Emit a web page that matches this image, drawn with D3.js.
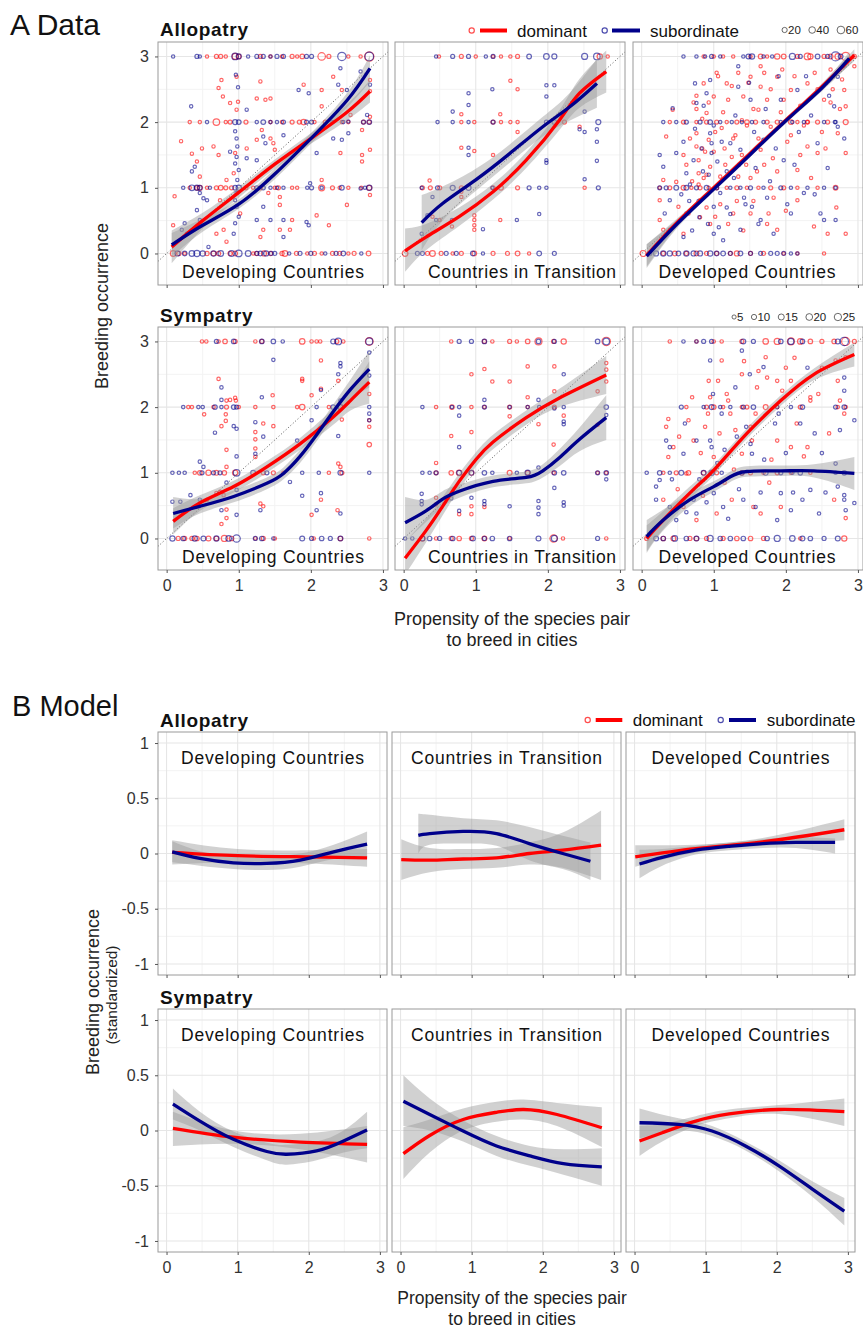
<!DOCTYPE html>
<html>
<head>
<meta charset="utf-8">
<script src="https://cdn.jsdelivr.net/npm/d3@7"></script>
<style>
body { margin: 0; background: #fff; }
svg { display: block; font-family: "Liberation Sans", Arial, Helvetica, sans-serif; }
</style>
</head>
<body>
<div id="chart"></div>
<script>
// ---- categories / ticks ----
const rows = ["Allopatry", "Sympatry"];
const regions = ["Developing Countries", "Countries in Transition", "Developed Countries"];
const groups = ["dominant", "subordinate"];
const xTicks = [0, 1, 2, 3];
const yTicksA = [0, 1, 2, 3];
const yTicksB = [-1, -0.5, 0, 0.5, 1];
const sizeLegAllo = [20, 40, 60];
const sizeLegSym = [5, 10, 15, 20, 25];

// ---- A: raw data points [x, y, n] ----
const ptsAlloDevDom = [[0.56,3],[0.69,3,3],[0.75,3,3],[0.82,3],[0.95,3,15],[1.0,3,6],[1.3,3,3],[1.44,3],[1.6,3],[1.74,3,3],[1.81,3],[1.88,3,5],[2.15,3,30],[2.25,3,3],[2.52,3],[2.69,3],[2.81,3,55],
 [0.32,2],[0.46,2],[0.69,2,20],[0.82,2],[0.88,2,3],[1.1,2,3],[1.44,2],[1.6,2],[1.74,2,3],[1.84,2,3],[1.9,2,10],[2.05,2],[2.2,2,3],[2.43,2],[2.52,2],[2.73,2,3],[2.81,2,3],
 [0.32,1],[0.42,1,5],[0.46,1,8],[0.56,1],[0.69,1,3],[0.75,1,6],[0.82,1,3],[0.9,1,3],[1.1,1,3],[1.2,1],[1.3,1,3],[1.5,1],[1.55,1,3],[1.74,1],[1.81,1],[2.15,1,15],[2.3,1,3],[2.4,1],[2.52,1],[2.7,1],[2.81,1,8],
 [0.09,0,12],[0.17,0,4],[0.25,0],[0.56,0,4],[0.65,0,6],[0.72,0,4],[0.88,0,4],[0.95,0,6],[1.2,0],[1.25,0,4],[1.35,0,8],[1.44,0,4],[1.6,0,4],[1.64,0,12],[1.8,0,3],[1.95,0],[2.05,0,3],[2.15,0],[2.3,0,3],[2.4,0,3],[2.52,0],[2.6,0,3],[2.8,0,6],
 [0.2,1.71],[0.11,0.87],[0.09,0.43],[0.35,1.52],[0.49,1.6],[0.42,1.4],[0.46,1.17],[0.65,1.63],[0.72,1.5],[0.76,2.64],[0.72,2.52],[0.78,2.39],[0.88,2.29],[0.97,2.69],[0.99,2.31],[0.97,2.19],[0.95,1.53],[0.93,1.22],[0.83,1.12],[0.74,0.81],[0.79,0.36],[0.83,0.18],[0.69,0.3],[1.02,0.61],[1.11,1.6],[1.25,1.73],[1.32,1.88],[1.3,2.62],[1.25,2.36],[1.37,2.34],[1.44,2.36],[1.44,1.75],[1.48,1.68],[1.5,1.58],[1.57,0.86],[1.57,0.74],[1.41,0.92],[1.34,0.36],[1.3,0.25],[1.57,0.36],[1.74,0.51],[1.71,0.36],[1.88,1.63],[1.9,2.57],[2.08,0.58],[2.15,2.24],[2.15,2.49],[2.15,1.12],[2.25,0.43],[2.31,2.69],[2.41,1.53],[2.43,2.49],[2.5,0.74],[2.55,2.11],[2.71,1.88],[2.71,1.5],[2.71,1.4],[2.82,2.08],[2.82,1.58],[2.82,0.89],[2.82,2.47],[2.82,2.64]];
const ptsAlloDevSub = [[0.09,3],[0.42,3,3],[0.46,3],[0.95,3,20],[1.0,3,8],[1.13,3],[1.25,3,3],[1.34,3,3],[1.44,3],[1.53,3,3],[1.62,3,3],[1.94,3,3],[2.01,3,3],[2.43,3,40],[2.81,3,45],
 [0.56,2],[0.95,2,8],[1.0,2,6],[1.25,2],[1.34,2,6],[1.44,2],[1.53,2],[1.62,2,3],[1.94,2,3],[2.01,2,3],[2.3,2],[2.45,2],[2.73,2,3],[2.81,2,6],
 [0.23,1],[0.35,1,12],[0.42,1,10],[0.46,1,6],[0.6,1],[0.95,1,6],[1.0,1,10],[1.25,1,3],[1.34,1,3],[1.44,1],[1.53,1],[1.62,1],[1.95,1],[2.01,1,3],[2.15,1],[2.43,1,6],[2.75,1],[2.81,1,10],
 [0.15,0,8],[0.25,0,6],[0.35,0,12],[0.42,0,16],[0.5,0,10],[0.65,0,10],[0.75,0,12],[0.9,0,14],[1.0,0,20],[1.13,0,12],[1.25,0,3],[1.3,0,6],[1.38,0,8],[1.45,0,3],[1.5,0,3],[1.7,0],[1.85,0,3],[2.0,0,3],[2.2,0],[2.35,0,3],[2.45,0,6],[2.7,0],
 [0.96,2.72],[0.99,2.53],[0.95,1.86],[0.97,1.75],[0.98,1.63],[0.97,1.47],[0.95,1.37],[1.0,1.27],[0.98,1.12],[0.97,0.92],[0.95,0.81],[0.97,0.71],[1.0,0.56],[0.95,0.46],[0.93,0.3],
 [0.34,2.24],[0.21,0.36],[0.25,0.46],[0.35,1.25],[0.39,1.32],[0.46,0.92],[0.51,0.84],[0.56,0.81],[0.42,0.66],[0.46,0.51],[0.37,0.36],[0.28,0.3],[0.58,0.1],[0.88,1.55],[1.11,2.19],[1.11,1.45],[1.25,1.42],[1.34,1.78],[1.37,1.68],[1.25,0.51],[1.34,0.71],[1.44,0.51],[1.62,0.51],[1.62,0.25],[1.62,1.8],[1.83,2.49],[1.97,2.44],[1.99,1.07],[2.08,1.53],[2.31,1.75],[2.41,2.82],[2.38,2.57],[2.43,1.73],[2.52,1.83],[2.5,2.49],[2.69,2.77],[2.69,0.99],[2.82,2.57],[2.78,2.11],[2.52,2.01],[1.94,0.48],[1.97,0.43]];
const ptsAlloTraDom = [[0.49,3],[0.8,3,3],[1.0,3],[1.24,3],[1.35,3],[1.48,3],[1.58,3,3],[2.72,3,10],[2.83,3],
 [0.8,2],[0.98,2],[1.24,2,3],[1.35,2],[1.48,2],[1.58,2],[2.23,2,3],
 [0.26,1,3],[0.37,1,3],[0.5,1,3],[0.8,1,3],[1.24,1,3],[1.35,1,6],[1.58,1,3],[2.51,1],
 [0.02,0,12],[0.33,0,3],[0.4,0,12],[0.52,0,3],[0.68,0],[0.8,0,3],[0.98,0,6],[1.24,0,3],[1.44,0,3],[1.58,0,6],[1.74,0],
 [0.36,1.11],[0.8,0.94],[0.8,0.86],[0.4,0.56],[0.5,0.51],[0.67,0.41],[0.98,0.58],[0.98,0.51],[0.98,0.43],[0.98,0.36],[0.8,2.12],[0.98,1.56],[0.8,1.61],[1.34,2.12],[1.48,2.63],[1.58,2.5],[1.58,1.85],[1.24,1.5],[1.34,0.51],[2.44,1.93]];
const ptsAlloTraSub = [[0.45,3],[0.68,3,3],[0.9,3,3],[1.14,3],[1.24,3,3],[1.74,3,6],[1.98,3,12],[2.09,3,8],[2.51,3,15],[2.68,3,20],
 [0.47,2],[0.68,2],[0.9,2],[1.24,2,3],[1.98,2,3],[2.09,2,6],[2.7,2,8],
 [0.25,1],[0.47,1,3],[0.68,1,8],[0.9,1,8],[1.23,1],[1.74,1,3],[1.88,1],[1.98,1],[2.7,1,3],
 [0.19,0,3],[0.26,0,3],[0.59,0,3],[0.73,0,3],[0.96,0,6],[1.1,0],[1.88,0,6],[2.09,0,3],
 [0.9,2.44],[0.9,2.26],[0.68,2.16],[1.23,2.5],[1.98,2.56],[2.09,2.56],[1.98,2.39],[0.9,1.61],[0.9,1.5],[2.51,2.16],[2.44,1.89],[2.51,1.85],[2.68,1.89],[2.68,1.7],[2.68,1.41],[1.98,1.42],[1.98,1.38],[2.51,1.13],[0.4,0.86],[0.33,0.58],[0.67,0.51],[1.1,0.37],[1.88,0.6],[1.57,0.51],[0.25,0.3],[0.45,0.51]];
const ptsAlloDedDom = [[0.86,3],[1.0,3],[1.13,3],[1.27,3],[1.51,3],[1.65,3,6],[1.74,3],[1.88,3,10],[1.97,3,6],[2.16,3,3],[2.3,3,20],[2.34,3,10],[2.53,3,3],[2.62,3,6],[2.72,3,12],[2.83,3,40],[2.95,3,3],
 [0.39,2],[0.58,2,3],[0.76,2],[0.9,2,3],[1.04,2,3],[1.18,2],[1.32,2,3],[1.46,2,6],[1.58,2,3],[1.74,2,3],[1.88,2,3],[2.07,2,6],[2.16,2],[2.3,2,3],[2.44,2,3],[2.58,2,3],[2.83,2,8],
 [0.25,1],[0.39,1,3],[0.58,1,6],[0.69,1],[0.81,1,3],[0.93,1],[1.04,1,3],[1.18,1],[1.32,1,3],[1.46,1],[1.62,1],[1.79,1,3],[1.97,1,3],[2.16,1],[2.44,1],[2.69,1,6],
 [0.02,0,15],[0.3,0,3],[0.46,0,6],[0.62,0,3],[0.76,0,6],[0.9,0,3],[1.04,0,3],[1.23,0,3],[1.32,0,8],[1.51,0,3],[1.69,0,3],[1.97,0],[2.16,0],[2.53,0],
 [0.43,2.19],[0.34,1.78],[0.3,1.12],[0.25,0.81],[0.25,0.51],[0.3,0.36],[0.48,1.09],[0.51,0.71],[0.58,0.3],[0.65,0.61],[0.76,1.83],[0.76,1.63],[0.79,1.42],[0.79,1.22],[0.81,0.81],[0.86,2.59],[0.9,2.14],[0.93,1.73],[0.95,1.32],[1.0,2.39],[1.02,0.56],[1.09,1.17],[1.11,1.91],[1.18,2.59],[1.2,2.34],[1.25,1.47],[1.27,0.61],[1.34,1.17],[1.39,2.03],[1.41,2.39],[1.51,2.69],[1.51,0.61],[1.62,2.19],[1.65,2.54],[1.65,1.58],[1.74,2.34],[1.76,0.61],[1.79,1.93],[1.88,2.69],[1.88,0.36],[1.97,2.34],[2.07,2.49],[2.16,1.27],[2.16,0.81],[2.3,2.59],[2.3,1.63],[2.39,0.41],[2.44,1.53],[2.53,2.34],[2.58,0.3],[2.62,2.8],[2.72,1.83],[2.81,2.49],[2.83,1.53],[2.83,0.3],[2.95,2.85],[2.83,2.24],
 [0.58,1.5],[0.62,1.35],[0.67,1.75],[0.7,1.1],[0.72,2.3],[0.84,2.05],[0.88,1.55],[0.9,1.2],[1.06,2.7],[1.15,1.6],[1.3,1.8],[1.45,1.35],[1.55,2.2],[1.6,1.25],[1.7,2.75],[1.82,1.45],[1.95,2.8],[2.02,1.7],[2.2,2.25],[2.25,1.95],[2.4,2.75],[2.5,1.85],[2.65,2.5],[2.75,2.2],
 [0.76,2.4],[0.76,2.2],[0.79,1.05],[0.81,0.55],[0.84,1.6],[0.86,1.15],[0.9,0.7],[0.93,2.3],[0.95,0.45],[1.0,1.55],[1.02,1.85],[1.04,2.75],[1.09,0.75],[1.13,2.15],[1.16,1.35],[1.2,0.45],[1.25,2.55],[1.27,1.75],[1.32,0.8],[1.34,2.75],[1.39,1.5],[1.41,0.35],[1.46,1.95],[1.48,2.6],[1.51,1.15],[1.55,0.8],[1.62,1.75],[1.65,2.85],[1.7,1.35],[1.74,0.45],[1.79,2.5],[1.83,0.85],[1.88,1.25],[1.93,2.15],[2.0,0.65],[2.07,1.8],[2.12,2.7],[2.2,1.5],[2.3,2.0],[2.35,1.15],[2.44,2.5],[2.55,1.6],[2.62,2.3],[2.7,0.7],[2.78,2.65]];
const ptsAlloDedSub = [[0.58,3],[0.76,3],[0.88,3],[0.97,3,3],[1.09,3],[1.41,3],[1.48,3,6],[1.53,3,10],[1.69,3],[1.81,3],[2.09,3,15],[2.2,3,3],[2.44,3,6],[2.58,3,3],[2.69,3,50],[2.76,3,6],
 [0.3,2],[0.48,2],[0.62,2,3],[0.81,2,3],[0.95,2,6],[1.09,2],[1.25,2],[1.39,2],[1.53,2],[1.69,2],[1.93,2],[2.09,2],[2.25,2],[2.53,2],[2.69,2],
 [0.25,1,3],[0.34,1,3],[0.48,1,6],[0.62,1,6],[0.76,1,3],[0.9,1,6],[1.04,1,3],[1.23,1],[1.37,1],[1.51,1,3],[1.69,1],[1.93,1,3],[2.07,1],[2.3,1],[2.53,1],[2.69,1],
 [0.11,0,6],[0.2,0,8],[0.3,0,10],[0.39,0,8],[0.51,0,6],[0.62,0,10],[0.72,0,8],[0.81,0,8],[0.95,0,10],[1.04,0,6],[1.13,0,6],[1.23,0,3],[1.37,0,6],[1.51,0,3],[1.65,0,3],[1.79,0,3],[1.88,0,3],[1.97,0,3],[2.07,0],[2.16,0],
 [0.43,2.21],[0.25,1.5],[0.3,1.32],[0.39,0.81],[0.32,0.61],[0.39,0.36],[0.48,1.53],[0.58,0.25],[0.62,1.22],[0.62,0.61],[0.72,1.42],[0.74,2.59],[0.76,2.29],[0.9,2.44],[0.95,2.64],[0.95,1.83],[0.97,1.68],[0.97,1.53],[1.0,0.71],[1.0,0.3],[1.09,0.92],[1.13,0.2],[1.23,1.68],[1.34,2.85],[1.34,2.54],[1.37,1.58],[1.37,0.36],[1.51,2.34],[1.53,0.71],[1.65,0.51],[1.69,1.73],[1.83,0.3],[1.93,2.34],[1.97,1.42],[2.07,0.61],[2.16,2.49],[2.25,0.92],[2.44,1.68],[2.48,0.61],[2.53,0.51],[2.67,2.24],[2.69,0.51],[2.72,2.69],[2.81,1.75],[2.72,1.93],
 [0.55,0.9],[0.66,0.8],[0.8,0.55],[0.85,1.25],[0.92,0.45],[1.05,1.4],[1.18,0.7],[1.28,1.15],[1.42,0.85],[1.58,1.3],[1.74,0.85],[1.86,1.6],[2.12,1.35],[2.35,2.1],[2.6,2.4],
 [0.58,1.7],[0.67,1.05],[0.7,0.35],[0.74,1.9],[0.79,0.8],[0.83,1.6],[0.86,2.25],[0.93,1.2],[1.0,1.95],[1.07,0.4],[1.11,1.7],[1.18,1.25],[1.23,0.6],[1.3,2.1],[1.35,1.35],[1.44,0.75],[1.49,2.6],[1.56,1.85],[1.62,0.45],[1.72,2.2],[1.78,1.1],[1.9,2.7],[2.02,0.75],[2.18,1.85],[2.28,2.7],[2.4,0.9],[2.58,1.3],[2.68,2.0],[2.8,2.85]];

const ptsSymDevDom = [[0.49,3],[0.55,3],[0.72,3],[0.81,3,3],[0.95,3,2],[1.23,3],[1.32,3,2],[1.88,3,6],[2.01,3],[2.08,3],[2.13,3],[2.36,3,2],[2.45,3],[2.81,3,16],
 [0.3,2],[0.35,2],[0.65,2],[0.83,2,2],[1.0,2],[1.23,2],[1.48,2],[1.81,2],[1.88,2,6],[2.25,2],[2.41,2,4],
 [0.39,1],[0.46,1,3],[0.58,1,5],[0.69,1,4],[0.8,1,3],[0.95,1,5],[1.34,1,2],[1.48,1,2],[1.62,1],[2.25,1],[2.43,1,2],
 [0.16,0,2],[0.25,0,2],[0.35,0,2],[0.42,0,3],[0.58,0,4],[0.69,0,3],[0.8,0,8],[0.9,0,3],[1.23,0],[1.34,0,2],[1.5,0],[2.04,0],[2.41,0,3],[2.81,0],
 [0.72,2.43],[0.83,2.1],[0.88,2.11],[0.95,2.14],[0.96,2.1],[0.52,1.89],[0.76,1.71],[0.82,1.89],[0.82,1.79],[0.83,1.35],[0.83,1.09],[0.79,0.66],[0.69,0.69],[0.74,0.71],[0.83,0.31],[0.76,0.22],[0.83,0.44],[0.56,0.59],[1.23,1.62],[1.23,1.51],[1.23,1.37],[1.23,1.24],[1.34,1.75],[1.3,0.53],[1.34,0.49],[1.47,2.18],[1.48,1.71],[1.88,2.43],[1.88,2.4],[2.01,2.18],[2.14,2.28],[2.14,2.71],[2.14,0.59],[2.01,0.36],[2.38,2.4],[2.38,1.14],[2.41,1.09],[2.43,1.81],[2.37,0.43],[2.81,2.2],[2.81,1.8],[2.81,1.7],[2.81,1.43,3]];
const ptsSymDevSub = [[0.69,3,2],[0.93,3,3],[1.32,3,3],[1.48,3,3],[1.61,3],[2.31,3,4],[2.38,3,10],[2.81,3,12],
 [0.23,2],[0.44,2],[0.5,2],[0.67,2,3],[0.76,2],[0.93,2,3],[0.97,2,2],[2.08,2],[2.31,2,3],[2.41,2,5],[2.81,2],
 [0.08,1],[0.17,1],[0.25,1],[0.49,1,2],[0.65,1,2],[0.74,1,2],[0.97,1,10],[1.2,1,4],[1.39,1,2],[1.88,1],[2.11,1],[2.41,1,4],[2.81,1],
 [0.08,0,5],[0.23,0,3],[0.39,0,5],[0.51,0,4],[0.69,0,5],[0.86,0,6],[0.97,0,14],[1.23,0,2],[1.32,0,3],[1.48,0],[1.88,0,4],[2.01,0,2],[2.15,0,3],[2.27,0,2],[2.41,0,4],
 [0.08,0.56],[0.19,0.56],[0.33,0.66],[0.46,0.59],[0.46,1.17],[0.51,1.09],[0.67,1.61],[0.76,2.3],[0.76,2.11],[0.93,1.71],[0.97,1.67],[0.97,1.25],[0.97,0.74],[0.97,0.36],[0.83,0.85],[0.76,0.43],[1.32,2.15],[1.23,1.77],[1.34,1.55],[1.23,1.29],[1.3,0.43],[1.48,2.72],[1.71,0.86],[1.81,1.49],[1.88,0.65],[2.08,0.43],[2.01,1.8],[2.14,2.26],[2.14,0.69],[2.38,1.56],[2.38,2.5],[2.41,2.62],[2.41,2.67],[2.41,2.1],[2.41,0.38],[2.81,1.9],[2.81,1.8],[2.81,2.48],[2.81,2.83]];
const ptsSymTraDom = [[0.66,3],[1.12,3,2],[1.23,3],[1.47,3,2],[1.57,3],[1.72,3,3],[1.87,3,12],[2.08,3,2],[2.22,3,5],[2.81,3,20],
 [0.45,2],[0.67,2,3],[0.94,2],[1.12,2],[1.47,2,2],[1.72,2],[2.09,2,2],
 [0.45,1,2],[0.66,1,3],[0.77,1,6],[0.94,1,4],[1.47,1,4],[1.72,1,3],[2.08,1],[2.69,1],[2.81,1],
 [0.26,0,5],[0.45,0],[0.66,0,2],[0.77,0,3],[0.94,0,2],[1.12,0,4],[1.47,0],[2.08,0,14],[2.21,0],[2.81,0],
 [0.94,2.5],[1.12,2.58],[1.23,2.39],[1.47,2.39],[1.72,2.15],[1.72,2.62],[2.09,2.62],[2.09,2.24],[2.22,1.87],[2.81,2.67],[2.81,2.57],[2.81,2.39],[2.69,2.24],[2.69,1.73],[0.94,1.62],[0.66,1.56],[1.47,1.86],[1.87,1.74],[2.08,1.43],[0.45,1.15],[0.45,0.62],[0.45,0.52],[0.94,0.49],[0.94,0.37],[0.77,0.37],[1.12,0.48]];
const ptsSymTraSub = [[0.77,3,2],[0.94,3,2],[1.12,3,3],[1.87,3,3],[2.09,3,2],[2.69,3,3],[2.81,3,10],
 [0.26,2],[0.67,2],[0.77,2],[1.12,2,2],[1.47,2],[1.72,2],[1.88,2],[2.22,2],[2.81,2,3],
 [0.26,1],[0.36,1],[0.45,1,2],[0.77,1,4],[0.94,1,4],[1.12,1,3],[1.23,1],[1.57,1],[1.72,1,5],[2.09,1,3],[2.22,1,3],[2.69,1,2],[2.81,1,3],
 [0.02,0],[0.12,0],[0.26,0,4],[0.36,0,3],[0.5,0,2],[0.68,0,3],[0.96,0,4],[1.12,0,2],[1.23,0,3],[1.47,0,3],[1.87,0,4],[2.09,0,8],[2.69,0,2],
 [0.77,1.87],[0.77,1.39],[0.66,0.61],[0.77,0.42],[0.25,0.68],[0.25,0.57],[0.25,0.52],[0.94,0.62],[1.12,2.11],[1.12,0.57],[1.12,0.52],[1.47,0.49],[1.87,2.11],[1.87,1.08],[1.87,0.57],[1.87,0.47],[1.87,0.37],[2.09,0.77],[2.22,2.5],[2.22,1.78],[2.22,1.74],[2.22,0.55],[2.22,0.5],[2.81,1.88],[2.81,0.9],[2.09,1.98]];
const ptsSymDedDom = [[0.39,3],[0.76,3],[1.0,3],[1.11,3],[1.39,3,2],[1.72,3,6],[1.88,3,8],[2.07,3,12],[2.2,3,6],[2.34,3,3],[2.5,3,2],[2.67,3,3],[2.83,3,18],[2.95,3,2],
 [0.62,2],[0.9,2,2],[1.0,2,3],[1.13,2],[1.39,2],[1.46,2,2],[1.72,2,4],[1.88,2],[2.2,2,2],[2.72,2],[2.83,2],
 [0.3,1],[0.48,1,2],[0.65,1,3],[0.86,1,3],[1.04,1,2],[1.39,1,3],[1.51,1,2],[1.69,1],[1.88,1,2],[2.07,1],[2.34,1],
 [0.07,0,2],[0.3,0,3],[0.44,0,4],[0.67,0,2],[0.76,0,3],[0.9,0,2],[1.13,0,2],[1.32,0,3],[1.51,0,3],[1.69,0,2],[2.2,0],[2.81,0,5],
 [0.37,1.82],[0.34,1.7],[0.37,1.24],[0.44,1.39],[0.3,0.59],[0.58,0.48],[0.65,1.8],[0.62,0.99],[0.72,1.49],[0.76,0.28],[0.93,2.4],[0.95,2.15],[0.88,1.7],[1.0,1.24],[1.04,0.38],[1.11,2.71],[1.18,2.2],[1.2,2.1],[1.23,1.9],[1.25,0.59],[1.39,2.5],[1.39,1.29],[1.51,1.7],[1.53,1.49],[1.65,0.38],[1.72,2.76],[1.74,2.45],[1.88,2.4],[1.88,1.49],[2.07,2.4],[2.07,1.39],[2.3,1.39],[2.34,2.15],[2.34,2.1],[2.69,2.71],[2.72,2.4],[2.83,2.76],[2.81,1.9],[2.83,0.31],[2.67,0.59],[1.93,0.48],[1.55,0.48],
 [0.5,0.75],[0.82,1.3],[1.08,1.6],[1.28,1.05],[1.6,2.3],[1.8,1.2],[2.0,2.6],[2.15,1.75],[2.45,2.2],[2.6,1.6],
 [0.52,1.55],[0.7,2.15],[0.85,0.65],[0.92,1.9],[1.06,2.4],[1.15,0.85],[1.3,1.65],[1.42,2.7],[1.58,1.9],[1.62,2.55],[1.77,0.85],[1.95,2.25],[2.12,2.75],[2.25,1.25],[2.5,2.6],[2.75,2.1]];
const ptsSymDedSub = [[0.58,3],[0.76,3],[0.86,3,2],[0.97,3,2],[1.41,3,4],[1.55,3,2],[1.93,3,3],[2.07,3,8],[2.23,3,3],[2.72,3,4],[2.81,3,20],
 [0.55,2,2],[0.86,2],[0.97,2,4],[1.09,2],[1.23,2],[1.41,2,2],[1.55,2,3],[1.88,2],[2.07,2],[2.23,2,3],[2.69,2,2],[2.81,2,3],
 [0.07,1],[0.25,1,3],[0.39,1],[0.55,1,4],[0.86,1,4],[0.97,1,5],[1.11,1],[1.39,1,3],[1.72,1,4],[1.93,1,2],[2.09,1],[2.2,1,3],[2.69,1],[2.81,1,3],
 [0.2,0,4],[0.3,0,3],[0.46,0,6],[0.62,0,3],[0.76,0,4],[0.95,0,8],[1.09,0,3],[1.23,0,3],[1.41,0,3],[1.74,0,3],[1.88,0,8],[2.09,0,6],[2.23,0,4],[2.34,0,3],[2.53,0,2],[2.72,0,4],
 [0.25,0.89],[0.2,0.79],[0.2,0.59],[0.34,1.49],[0.39,1.39],[0.58,1.29],[0.39,0.48],[0.48,0.28],[0.72,0.59],[0.76,1.49],[0.76,0.38],[0.95,2.71],[0.95,1.49],[0.97,1.39],[1.0,0.69],[1.11,1.9],[1.13,0.48],[1.3,2.3],[1.32,1.55],[1.39,2.86],[1.41,0.59],[1.51,1.44],[1.53,1.29],[1.58,0.48],[1.69,2.61],[1.88,0.28],[1.93,0.69],[2.07,0.43],[2.2,1.75],[2.23,0.59],[2.34,0.74],[2.46,0.38],[2.69,1.14],[2.72,0.79],[2.81,2.45],[2.81,2.25],[2.81,0.59],[2.83,0.43],[2.95,1.8],[2.95,0.54],[2.81,0.66],
 [0.62,0.4],[0.9,0.55],[1.05,1.15],[1.2,0.3],[1.45,1.7],[1.65,0.7],[1.85,1.75],[2.0,1.3],[2.4,1.6],[2.55,0.7],
 [0.42,0.9],[0.6,1.75],[0.8,0.9],[0.99,2.2],[1.15,1.35],[1.35,0.75],[1.5,2.5],[1.7,1.2],[1.9,1.9],[2.1,0.7],[2.3,2.6],[2.5,1.3],[2.75,1.65]];

// ---- A: smoothers [x, fit, lower, upper] ----
const fitAlloDevDom = [[0.07,0.1,-0.15,0.35],[0.5,0.5,0.38,0.62],[1,0.93,0.85,1.01],[1.5,1.36,1.29,1.43],[2,1.75,1.67,1.83],[2.5,2.15,2.03,2.27],[2.82,2.47,2.3,2.64]];
const fitAlloDevSub = [[0.07,0.13,-0.05,0.31],[0.5,0.43,0.33,0.53],[1,0.75,0.68,0.82],[1.5,1.21,1.13,1.29],[2,1.75,1.67,1.83],[2.5,2.33,2.22,2.44],[2.82,2.82,2.62,3.02]];
const fitAlloTraDom = [[0.02,0.04,-0.28,0.38],[0.31,0.25,0.05,0.45],[0.77,0.56,0.42,0.7],[1.24,0.94,0.82,1.06],[1.7,1.42,1.3,1.54],[2.16,2.03,1.88,2.18],[2.44,2.44,2.22,2.66],[2.81,2.77,2.45,3.09]];
const fitAlloTraSub = [[0.25,0.47,0.05,0.89],[0.54,0.76,0.5,1.02],[1.0,1.12,0.95,1.29],[1.47,1.52,1.38,1.66],[1.93,1.93,1.78,2.08],[2.3,2.23,2.02,2.44],[2.68,2.59,2.22,2.96]];
const fitAlloDedDom = [[0.07,-0.03,-0.2,0.14],[0.5,0.48,0.42,0.54],[1,1.0,0.96,1.04],[1.5,1.52,1.48,1.56],[2,2.03,1.99,2.07],[2.5,2.54,2.49,2.59],[2.95,3.02,2.93,3.11]];
const fitAlloDedSub = [[0.07,-0.04,-0.22,0.14],[0.5,0.46,0.4,0.52],[1,0.98,0.94,1.02],[1.5,1.5,1.46,1.54],[2,2.02,1.98,2.06],[2.5,2.52,2.47,2.57],[2.88,2.97,2.87,3.07]];
const fitSymDevDom = [[0.09,0.26,0.06,0.46],[0.46,0.54,0.42,0.66],[0.93,0.79,0.7,0.88],[1.39,1.09,1.0,1.18],[1.85,1.44,1.35,1.53],[2.31,1.85,1.73,1.97],[2.55,2.1,1.95,2.25],[2.81,2.38,2.05,2.7]];
const fitSymDevSub = [[0.09,0.38,0.15,0.63],[0.46,0.49,0.38,0.6],[0.93,0.64,0.55,0.73],[1.39,0.84,0.75,0.93],[1.62,0.99,0.9,1.08],[1.85,1.25,1.15,1.35],[2.08,1.58,1.48,1.68],[2.31,1.93,1.82,2.04],[2.55,2.27,2.12,2.42],[2.81,2.58,2.3,2.86]];
const fitSymTraDom = [[0.02,-0.3,-0.55,-0.05],[0.31,0.12,-0.06,0.3],[0.54,0.49,0.35,0.63],[0.77,0.87,0.75,0.99],[1.0,1.2,1.09,1.31],[1.24,1.47,1.36,1.58],[1.7,1.84,1.73,1.95],[2.16,2.14,2.0,2.28],[2.81,2.49,2.2,2.78]];
const fitSymTraSub = [[0.02,0.24,-0.05,0.63],[0.31,0.42,0.25,0.59],[0.54,0.6,0.48,0.72],[0.77,0.72,0.62,0.82],[1.24,0.87,0.78,0.96],[1.7,0.93,0.84,1.02],[1.93,1.03,0.93,1.13],[2.16,1.23,1.1,1.36],[2.44,1.51,1.33,1.69],[2.81,1.84,1.5,2.18]];
const fitSymDedDom = [[0.07,0.0,-0.2,0.2],[0.3,0.28,0.14,0.42],[0.76,0.79,0.7,0.88],[1.0,1.04,0.96,1.12],[1.46,1.6,1.52,1.68],[1.93,2.1,2.02,2.18],[2.39,2.5,2.41,2.59],[2.95,2.8,2.62,2.98]];
const fitSymDedSub = [[0.07,0.03,-0.22,0.28],[0.3,0.28,0.12,0.44],[0.67,0.59,0.49,0.69],[1.0,0.79,0.71,0.87],[1.23,0.94,0.86,1.02],[1.46,1.02,0.94,1.1],[1.93,1.03,0.95,1.11],[2.39,1.03,0.93,1.13],[2.95,0.99,0.74,1.24]];

// ---- B: model predictions [x, fit, lower, upper] ----
const modAlloDevDom = [[0.08,0.01,-0.1,0.12],[1,-0.02,-0.08,0.04],[2,-0.03,-0.09,0.03],[2.82,-0.04,-0.12,0.04]];
const modAlloDevSub = [[0.08,0.015,-0.08,0.11],[0.47,-0.045,-0.11,0.02],[0.94,-0.085,-0.14,-0.03],[1.41,-0.09,-0.15,-0.03],[1.88,-0.06,-0.12,0.0],[2.35,0.015,-0.05,0.08],[2.82,0.085,-0.03,0.2]];
const modAlloTraDom = [[0.01,-0.055,-0.24,0.13],[0.41,-0.06,-0.17,0.05],[0.88,-0.05,-0.14,0.04],[1.35,-0.04,-0.13,0.05],[1.81,0.0,-0.1,0.1],[2.28,0.03,-0.13,0.19],[2.82,0.075,-0.24,0.39]];
const modAlloTraSub = [[0.25,0.165,0.0,0.36],[0.41,0.18,0.08,0.35],[0.88,0.2,0.09,0.32],[1.35,0.18,0.07,0.3],[1.81,0.09,-0.06,0.24],[2.28,0.0,-0.14,0.16],[2.67,-0.07,-0.24,0.1]];
const modAlloDedDom = [[0.01,-0.03,-0.12,0.075],[0.86,0.045,0.01,0.08],[1.8,0.105,0.07,0.14],[2.95,0.215,0.12,0.31]];
const modAlloDedSub = [[0.07,-0.095,-0.225,0.035],[0.39,-0.035,-0.11,0.04],[0.86,0.03,-0.01,0.07],[1.33,0.065,0.03,0.1],[1.8,0.09,0.05,0.13],[2.27,0.1,0.05,0.15],[2.82,0.1,0.0,0.135]];
const modSymDevDom = [[0.09,0.02,-0.14,0.17],[0.94,-0.06,-0.12,0.0],[1.88,-0.105,-0.17,-0.03],[2.82,-0.125,-0.29,0.04]];
const modSymDevSub = [[0.09,0.24,0.1,0.38],[0.47,0.085,0.0,0.17],[0.94,-0.08,-0.15,-0.01],[1.41,-0.19,-0.27,-0.11],[1.69,-0.215,-0.31,-0.13],[2.11,-0.185,-0.27,-0.1],[2.49,-0.095,-0.2,0.0],[2.82,0.005,-0.16,0.17]];
const modSymTraDom = [[0.04,-0.21,-0.44,0.03],[0.41,-0.045,-0.2,0.1],[0.88,0.1,0.0,0.2],[1.35,0.165,0.08,0.26],[1.73,0.19,0.1,0.28],[2.2,0.145,0.04,0.25],[2.83,0.025,-0.15,0.21]];
const modSymTraSub = [[0.04,0.265,0.04,0.5],[0.41,0.145,0.0,0.29],[0.88,-0.005,-0.1,0.09],[1.35,-0.14,-0.23,-0.05],[1.82,-0.23,-0.32,-0.14],[2.29,-0.3,-0.4,-0.17],[2.83,-0.33,-0.5,-0.16]];
const modSymDedDom = [[0.07,-0.095,-0.23,0.04],[0.39,-0.02,-0.1,0.06],[0.86,0.085,0.04,0.13],[1.33,0.15,0.11,0.19],[2.03,0.19,0.15,0.23],[2.95,0.17,0.04,0.29]];
const modSymDedSub = [[0.07,0.07,-0.07,0.2],[0.62,0.055,0.0,0.11],[1.09,-0.005,-0.05,0.04],[1.56,-0.14,-0.18,-0.1],[2.03,-0.32,-0.37,-0.27],[2.5,-0.53,-0.6,-0.46],[2.95,-0.73,-0.86,-0.61]];

// ---------------------------------------------------------------
const FONT = '"Liberation Sans", Arial, Helvetica, sans-serif';
const RED = "#ff0000", BLUE = "#00008b";
const curve = d3.curveNatural;

const svg = d3.select("#chart").append("svg")
    .attr("width", 863)
    .attr("height", 1329);

let layA = {id: "A", lefts: [158, 395, 633], w: 230, tops: [42, 327], h: 243,
    xDom: [-0.12, 3.07], yDom: [-0.48, 3.22], labelDx: [0, 12, -1], labelDy: 236, labelW: [182, 188, 177]};
let layB = {id: "B", lefts: [158, 392, 626], w: 229, tops: [732, 1009], h: 243,
    xDom: [-0.12, 3.1], yDom: [-1.1, 1.1], labelDx: [0, 0, 0], labelDy: 32, labelW: [183, 191, 178]};

let rAllo = d3.scaleSqrt().domain([0, 60]).range([1.2, 4.8]),
    rSym = d3.scaleSqrt().domain([0, 25]).range([1.0, 4.6]);

let panelsA = [
    {row: 0, col: 0, dom: ptsAlloDevDom, sub: ptsAlloDevSub, fd: fitAlloDevDom, fs: fitAlloDevSub},
    {row: 0, col: 1, dom: ptsAlloTraDom, sub: ptsAlloTraSub, fd: fitAlloTraDom, fs: fitAlloTraSub},
    {row: 0, col: 2, dom: ptsAlloDedDom, sub: ptsAlloDedSub, fd: fitAlloDedDom, fs: fitAlloDedSub},
    {row: 1, col: 0, dom: ptsSymDevDom, sub: ptsSymDevSub, fd: fitSymDevDom, fs: fitSymDevSub},
    {row: 1, col: 1, dom: ptsSymTraDom, sub: ptsSymTraSub, fd: fitSymTraDom, fs: fitSymTraSub},
    {row: 1, col: 2, dom: ptsSymDedDom, sub: ptsSymDedSub, fd: fitSymDedDom, fs: fitSymDedSub}
];
let panelsB = [
    {row: 0, col: 0, fd: modAlloDevDom, fs: modAlloDevSub},
    {row: 0, col: 1, fd: modAlloTraDom, fs: modAlloTraSub},
    {row: 0, col: 2, fd: modAlloDedDom, fs: modAlloDedSub},
    {row: 1, col: 0, fd: modSymDevDom, fs: modSymDevSub},
    {row: 1, col: 1, fd: modSymTraDom, fs: modSymTraSub},
    {row: 1, col: 2, fd: modSymDedDom, fs: modSymDedSub}
];

function drawSection(L, panels, yTicks, yMinor, yFmt, isData) {
    panels.forEach((p, i) => {
        let x = d3.scaleLinear().domain(L.xDom).range([0, L.w]),
            y = d3.scaleLinear().domain(L.yDom).range([L.h, 0]);
        let g = svg.append("g")
            .attr("transform", `translate(${L.lefts[p.col]}, ${L.tops[p.row]})`);
        let clipId = "clip" + L.id + i;
        g.append("clipPath").attr("id", clipId)
            .append("rect").attr("width", L.w).attr("height", L.h);

        //grid: minor then major
        let xMinor = [0.5, 1.5, 2.5];
        g.selectAll(".gx2").data(xMinor).enter().append("line")
            .attr("x1", d => x(d)).attr("x2", d => x(d)).attr("y1", 0).attr("y2", L.h)
            .attr("stroke", "#f3f3f3").attr("stroke-width", 1);
        g.selectAll(".gy2").data(yMinor).enter().append("line")
            .attr("y1", d => y(d)).attr("y2", d => y(d)).attr("x1", 0).attr("x2", L.w)
            .attr("stroke", "#f3f3f3").attr("stroke-width", 1);
        g.selectAll(".gx").data(xTicks).enter().append("line")
            .attr("x1", d => x(d)).attr("x2", d => x(d)).attr("y1", 0).attr("y2", L.h)
            .attr("stroke", "#e6e6e6").attr("stroke-width", 1.1);
        g.selectAll(".gy").data(yTicks).enter().append("line")
            .attr("y1", d => y(d)).attr("y2", d => y(d)).attr("x1", 0).attr("x2", L.w)
            .attr("stroke", "#e6e6e6").attr("stroke-width", 1.1);

        let plot = g.append("g").attr("clip-path", `url(#${clipId})`);

        if (isData) {
            let r = p.row === 0 ? rAllo : rSym;
            [[p.dom, RED], [p.sub, BLUE]].forEach(([pts, col]) => {
                plot.append("g").selectAll("circle").data(pts).enter().append("circle")
                    .attr("cx", d => x(d[0]))
                    .attr("cy", d => y(d[1]))
                    .attr("r", d => r(d[2] || 1))
                    .attr("fill", "none")
                    .attr("stroke", col)
                    .attr("stroke-opacity", 0.6)
                    .attr("stroke-width", 1.2);
            });
            //1:1 line
            plot.append("line")
                .attr("x1", x(L.xDom[0])).attr("y1", y(L.xDom[0]))
                .attr("x2", x(3.3)).attr("y2", y(3.3))
                .attr("stroke", "#555").attr("stroke-width", 1)
                .attr("stroke-dasharray", "1,2.2");
        }

        let area = d3.area().curve(curve).x(d => x(d[0])).y0(d => y(d[2])).y1(d => y(d[3]));
        let line = d3.line().curve(curve).x(d => x(d[0])).y(d => y(d[1]));
        [p.fd, p.fs].forEach(f => {
            plot.append("path").attr("d", area(f))
                .attr("fill", "#999").attr("fill-opacity", 0.45);
        });
        [[p.fd, RED], [p.fs, BLUE]].forEach(([f, col]) => {
            plot.append("path").attr("d", line(f))
                .attr("fill", "none").attr("stroke", col)
                .attr("stroke-width", 3.3).attr("stroke-linecap", "butt");
        });

        //panel border
        g.append("rect").attr("width", L.w).attr("height", L.h)
            .attr("fill", "none").attr("stroke", "#9a9a9a").attr("stroke-width", 1);

        //facet label
        g.append("text")
            .attr("x", L.w / 2 + L.labelDx[p.col])
            .attr("y", L.labelDy)
            .attr("text-anchor", "middle")
            .attr("font-size", 17.5)
            .attr("fill", "#111")
            .attr("textLength", L.labelW[p.col])
            .attr("lengthAdjust", "spacing")
            .text(regions[p.col]);

        //x axis (labels only on the bottom row)
        let xa = g.append("g").attr("transform", `translate(0, ${L.h})`)
            .call(d3.axisBottom(x).tickValues(xTicks).tickSize(3).tickPadding(7)
                .tickFormat(p.row === 1 ? d3.format("d") : ""));
        styleAxis(xa);

        //y axis on the left column
        if (p.col === 0) {
            let ya = g.append("g")
                .call(d3.axisLeft(y).tickValues(yTicks).tickSize(3).tickPadding(6).tickFormat(yFmt));
            styleAxis(ya);
        }
    });
}

function styleAxis(a) {
    a.select(".domain").remove();
    a.attr("font-family", FONT).attr("font-size", 16);
    a.selectAll("line").attr("stroke", "#555");
    a.selectAll("text").attr("fill", "#333");
}

drawSection(layA, panelsA, yTicksA, [0.5, 1.5, 2.5], d3.format("d"), true);
drawSection(layB, panelsB, yTicksB, [-0.75, -0.25, 0.25, 0.75], d => (d === 0 ? "0" : String(d)), false);

// ---- titles ----
function txt(x, y, s, size, opts = {}) {
    let t = svg.append("text").attr("x", x).attr("y", y)
        .attr("font-size", size).attr("fill", opts.fill || "#111")
        .attr("text-anchor", opts.anchor || "start")
        .attr("font-weight", opts.weight || "normal")
        .text(s);
    if (opts.len) t.attr("textLength", opts.len).attr("lengthAdjust", "spacing");
    if (opts.rotate) t.attr("transform", `rotate(-90, ${x}, ${y})`);
    return t;
}

txt(10, 35, "A Data", 30);
txt(12, 716, "B Model", 29);
[36, 321.5, 726.5, 1003.5].forEach((yy, k) => {
    let s = rows[k % 2];
    txt(160, yy, s, 19, {weight: "bold", len: s === "Allopatry" ? 88 : 92.5});
});

txt(108, 306, "Breeding occurrence", 18, {anchor: "middle", rotate: true, fill: "#222"});
txt(99, 992, "Breeding occurrence", 18, {anchor: "middle", rotate: true, fill: "#222"});
txt(117, 995, "(standardized)", 15.5, {anchor: "middle", rotate: true, fill: "#222"});
[[625, 646, 18], [1304, 1325, 17.5]].forEach(([a, b, fs]) => {
    txt(512, a, "Propensity of the species pair", fs, {anchor: "middle", fill: "#222"});
    txt(512, b, "to breed in cities", fs, {anchor: "middle", fill: "#222"});
});

// ---- colour legends ----
function colourLegend(cy, items) {
    items.forEach(it => {
        svg.append("circle").attr("cx", it.c).attr("cy", cy).attr("r", 2.6)
            .attr("fill", "none").attr("stroke", it.col).attr("stroke-opacity", 0.7).attr("stroke-width", 1.2);
        svg.append("line").attr("x1", it.l0).attr("x2", it.l1).attr("y1", cy).attr("y2", cy)
            .attr("stroke", it.col).attr("stroke-width", 4);
        txt(it.t, cy + 6, it.label, 17, {fill: "#111"});
    });
}
colourLegend(30.5, [
    {c: 471.7, l0: 480, l1: 507, t: 517, col: RED, label: groups[0]},
    {c: 604.7, l0: 612, l1: 640, t: 650, col: BLUE, label: groups[1]}
]);
colourLegend(720, [
    {c: 587.7, l0: 595.7, l1: 622.3, t: 632.7, col: RED, label: groups[0]},
    {c: 720.7, l0: 729, l1: 756, t: 766.7, col: BLUE, label: groups[1]}
]);

// ---- size legends ----
function sizeLegend(x0, cy, vals, r) {
    let cur = x0;
    vals.forEach(v => {
        let rr = r(v) * 0.8;
        svg.append("circle").attr("cx", cur + rr).attr("cy", cy).attr("r", rr)
            .attr("fill", "none").attr("stroke", "#444").attr("stroke-width", 0.8);
        let t = txt(cur + 2 * rr + 0.8, cy + 4, String(v), 11.5, {fill: "#222"});
        cur += 2 * rr + 0.8 + t.node().getComputedTextLength() + 8;
    });
}
sizeLegend(782, 30, sizeLegAllo, rAllo);
sizeLegend(732, 317, sizeLegSym, rSym);
</script>
</body>
</html>
